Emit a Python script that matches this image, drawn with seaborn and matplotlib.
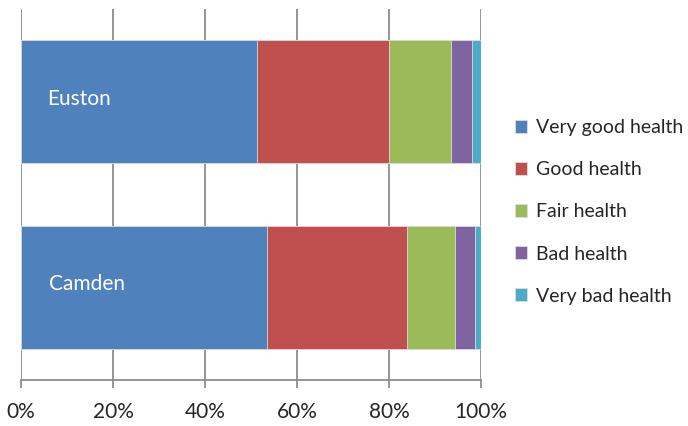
import pandas as pd
import numpy as np
import matplotlib.pyplot as plt
import seaborn as sns

sns.set_theme(style="white")
plt.rcParams['font.family'] = ['Lato', 'DejaVu Sans']

# data (percent of residents)
areas = ['Euston', 'Camden']
categories = ['Very good health', 'Good health', 'Fair health', 'Bad health', 'Very bad health']
euston = [51.2, 28.7, 13.5, 4.6, 2.0]
camden = [53.4, 30.5, 10.4, 4.3, 1.4]
colors = ['#4F81BD', '#C0504D', '#9BBB59', '#8064A2', '#4BACC6']

df = pd.DataFrame({'Euston': euston, 'Camden': camden}, index=categories).T
cum = df.cumsum(axis=1)

fig = plt.figure(figsize=(6.88, 4.26), dpi=100)
ax = fig.add_axes([21/688, 1-380/426, 460/688, 371/426])

# stacked bars: draw the cumulative layers from the longest down
for cat, col in reversed(list(zip(categories, colors))):
    sns.barplot(x=cum[cat].values, y=areas, orient='h', color=col, width=0.663,
                saturation=1, edgecolor='#dddddd', linewidth=0.6, ax=ax,
                label=cat, order=areas)

for i, name in enumerate(areas):
    ax.text(5.6 + 0.4*i, i - 0.015, name, color='white', fontsize=15, va='center', ha='left')

ax.set_xlim(0, 100)
ax.set_xticks(np.arange(0, 101, 20))
ax.set_xticklabels([f'{t}%' for t in range(0, 101, 20)], fontsize=15)
ax.set_yticks([])
ax.set_xlabel('')
ax.set_ylabel('')
ax.grid(axis='x', color='#8c8c8c', linewidth=1.3)
ax.set_axisbelow(True)
for s in ['top', 'right', 'left']:
    ax.spines[s].set_visible(False)
ax.spines['bottom'].set_color('#8c8c8c')
ax.spines['bottom'].set_linewidth(1.3)
ax.tick_params(axis='x', bottom=True, length=6, width=1.3, color='#8c8c8c', pad=10)

handles, labels = ax.get_legend_handles_labels()
order = [labels.index(c) for c in categories]
ax.legend([handles[i] for i in order], categories, loc='center left',
          bbox_to_anchor=(1.035, 0.453), frameon=False, fontsize=14,
          handlelength=0.65, handleheight=0.65, labelspacing=1.29, handletextpad=0.45)

fig.savefig('out.png', dpi=100)
